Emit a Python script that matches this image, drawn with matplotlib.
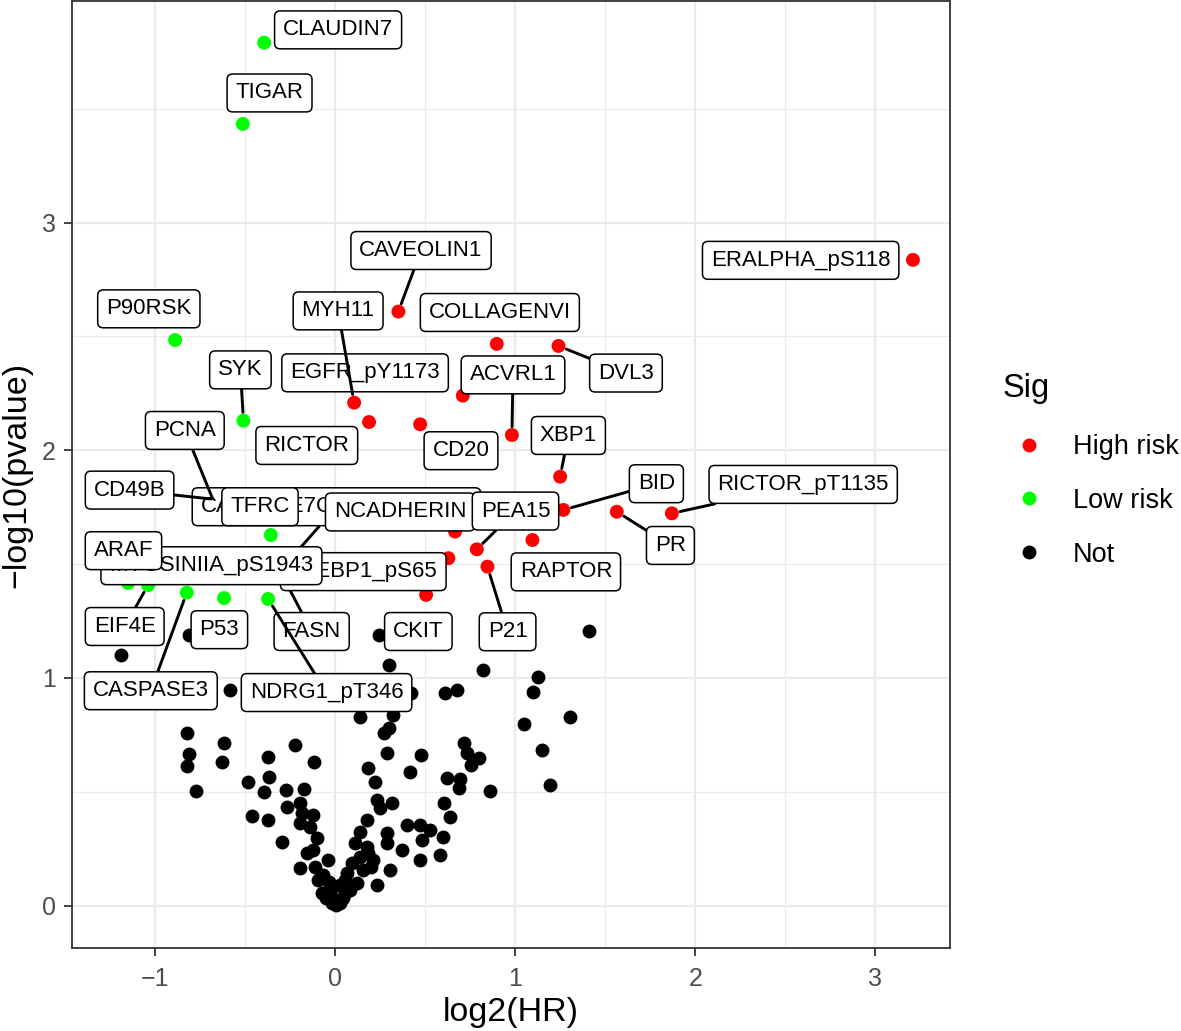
import numpy as np
import matplotlib
matplotlib.use("Agg")
import matplotlib.pyplot as plt
from matplotlib.lines import Line2D

plt.rcParams['font.family'] = ['Liberation Sans', 'DejaVu Sans']

# proteins that are not significant (Sig = "Not")
not_x = [1.412, 0.823, 1.125, 1.097, 0.610, 0.675, 1.305, 1.049, 0.712, 1.147,
         0.730, 0.800, 0.753, 1.190, 0.860, 0.619, 0.693, 0.689, 0.604, 0.638,
         -1.191, -0.813, 0.243, 0.298, 0.421, -0.585, 0.137, 0.321, 0.298, 0.271,
         -0.824, -0.813, -0.824, -0.774, -0.619, -0.630, -0.224, -0.374, -0.118, 0.287,
         0.476, 0.415, 0.182, 0.221, -0.485, -0.369, -0.396, -0.274, -0.174, -0.268,
         -0.196, -0.185, -0.124, -0.374, -0.196, -0.296, -0.141, -0.102, -0.157, -0.124,
         -0.041, -0.196, -0.113, -0.096, -0.068, -0.074, -0.018, 0.009, -0.018, 0.026,
         0.054, 0.065, 0.093, 0.110, 0.137, 0.176, 0.232, 0.315, 0.248, 0.137,
         0.176, 0.210, 0.154, 0.121, 0.082, 0.287, 0.287, 0.304, 0.232, 0.371,
         0.399, 0.471, 0.526, 0.482, 0.599, 0.471, 0.582, -0.463, 0.004, -0.052,
         0.043, -0.035, 0.026, 0.054, 0.182, 0.199]
not_y = [1.208, 1.035, 1.003, 0.940, 0.935, 0.947, 0.830, 0.797, 0.713, 0.684,
         0.669, 0.647, 0.618, 0.530, 0.505, 0.561, 0.556, 0.516, 0.452, 0.390,
         1.101, 1.189, 1.189, 1.057, 0.934, 0.947, 0.829, 0.838, 0.780, 0.758,
         0.758, 0.666, 0.614, 0.504, 0.715, 0.631, 0.706, 0.653, 0.631, 0.671,
         0.662, 0.587, 0.605, 0.543, 0.543, 0.565, 0.499, 0.508, 0.513, 0.433,
         0.451, 0.407, 0.398, 0.376, 0.363, 0.280, 0.346, 0.297, 0.231, 0.245,
         0.201, 0.166, 0.170, 0.113, 0.135, 0.056, 0.078, 0.025, 0.012, 0.012,
         0.056, 0.144, 0.188, 0.275, 0.324, 0.376, 0.464, 0.451, 0.429, 0.214,
         0.258, 0.201, 0.157, 0.100, 0.069, 0.319, 0.275, 0.157, 0.091, 0.245,
         0.354, 0.354, 0.332, 0.289, 0.302, 0.201, 0.223, 0.394, 0.003, 0.034,
         0.034, 0.104, 0.091, 0.113, 0.231, 0.170]

# significant, labelled proteins
lab_names = ['CLAUDIN7', 'TIGAR', 'P90RSK', 'SYK', 'CAVEOLIN1', 'COLLAGENVI', 'DVL3',
             'EGFR_pY1173', 'MYH11', 'ACVRL1', 'RICTOR', 'CD20', 'XBP1', 'ERALPHA_pS118',
             'CASPASE7CLEAVEDD198', 'PCNA', 'CD49B', 'TFRC', 'NCADHERIN', 'PEA15', 'BID',
             'PR', 'RICTOR_pT1135', 'RAPTOR', 'FASN', 'X4EBP1_pS65', 'MYOSINIIA_pS1943',
             'ARAF', 'EIF4E', 'P53', 'CKIT', 'P21', 'CASPASE3', 'NDRG1_pT346']
lab_sig = ['Low risk', 'Low risk', 'Low risk', 'Low risk', 'High risk', 'High risk', 'High risk',
           'High risk', 'High risk', 'High risk', 'High risk', 'High risk', 'High risk', 'High risk',
           'Low risk', 'Low risk', 'Low risk', 'Low risk', 'High risk', 'High risk', 'High risk',
           'High risk', 'High risk', 'High risk', 'Low risk', 'High risk', 'Low risk',
           'Low risk', 'Low risk', 'Low risk', 'High risk', 'High risk', 'Low risk', 'Low risk']
lab_x = [-0.396, -0.515, -0.891, -0.511, 0.350, 0.897, 1.240,
         0.708, 0.104, 0.981, 0.187, 0.471, 1.249, 3.210,
         -0.235, -0.666, -0.644, -0.359, 0.665, 0.786, 1.267,
         1.564, 1.870, 1.095, -0.291, 0.628, -0.724,
         -1.152, -1.041, -0.619, 0.504, 0.845, -0.826, -0.374]
lab_y = [3.790, 3.433, 2.484, 2.130, 2.609, 2.467, 2.458,
         2.240, 2.209, 2.067, 2.124, 2.114, 1.884, 2.836,
         1.536, 1.755, 1.782, 1.628, 1.643, 1.565, 1.738,
         1.730, 1.723, 1.606, 1.444, 1.526, 1.466,
         1.417, 1.408, 1.351, 1.365, 1.489, 1.375, 1.347]

# where the repelled label boxes sit, and whether a segment joins them to the point
text_x = [0.015, -0.366, -1.037, -0.528, 0.476, 0.914, 1.615,
          0.165, 0.015, 0.987, -0.159, 0.698, 1.295, 2.586,
          0.006, -0.837, -1.144, -0.419, 0.360, 1.001, 1.784,
          1.862, 2.600, 1.281, -0.132, 0.155, -0.689,
          -1.178, -1.171, -0.645, 0.461, 0.957, -1.026, -0.049]
text_y = [3.846, 3.569, 2.621, 2.353, 2.877, 2.605, 2.339,
          2.340, 2.612, 2.331, 2.021, 1.998, 2.065, 2.834,
          1.752, 2.087, 1.825, 1.752, 1.729, 1.733, 1.853,
          1.582, 1.850, 1.466, 1.204, 1.467, 1.493,
          1.559, 1.226, 1.212, 1.204, 1.203, 0.944, 0.936]
has_seg = [False, False, False, True, True, False, True,
           False, True, True, False, False, True, False,
           True, True, True, False, False, True, True,
           True, True, False, True, False, False,
           False, True, False, False, True, True, True]

sig_levels = ['High risk', 'Low risk', 'Not']
sig_colors = {'High risk': '#FF0000', 'Low risk': '#00FF00', 'Not': '#000000'}

W, H = 1181, 1031
fig = plt.figure(figsize=(W / 100, H / 100), dpi=100)
ax = fig.add_axes([72 / W, 1 - 948.3 / H, (950 - 72) / W, (948.3 - 0.5) / H])

ax.set_xlim(-1.464, 3.416)
ax.set_ylim(-0.187, 3.975)

ax.set_xticks([-1, 0, 1, 2, 3])
ax.set_yticks([0, 1, 2, 3])
ax.set_xticks([-0.5, 0.5, 1.5, 2.5], minor=True)
ax.set_yticks([0.5, 1.5, 2.5, 3.5], minor=True)
ax.grid(which='major', color='#EBEBEB', lw=1.6)
ax.grid(which='minor', color='#EBEBEB', lw=0.8)
ax.set_axisbelow(True)
ax.tick_params(which='minor', length=0)
ax.tick_params(which='major', length=5.8, width=1.3, color='#333333',
               labelcolor='#4D4D4D', labelsize=18)
ax.tick_params(axis='x', pad=7.5)
ax.tick_params(axis='y', pad=6)
for s in ax.spines.values():
    s.set_color('#333333')
    s.set_linewidth(1.3)

# points
ax.scatter(not_x, not_y, s=100, c=sig_colors['Not'], linewidths=0, zorder=2)
lab_cols = [sig_colors[s] for s in lab_sig]
ax.scatter(lab_x, lab_y, s=100, c=lab_cols, linewidths=0, zorder=2)

# labels
box = dict(boxstyle='round,pad=0.38,rounding_size=0.25', fc='white', ec='black', lw=1.1)
for i, name in enumerate(lab_names):
    kw = {}
    if has_seg[i]:
        kw['arrowprops'] = dict(arrowstyle='-', color='black', lw=2.1,
                                shrinkA=0, shrinkB=6)
    ax.annotate(name, xy=(lab_x[i], lab_y[i]), xytext=(text_x[i], text_y[i]),
                textcoords='data', ha='center', va='center', fontsize=16,
                bbox=box, zorder=3, **kw)

ax.set_xlabel('log2(HR)', fontsize=24.5)
ax.set_ylabel('\u2212log10(pvalue)', fontsize=24.5)
ax.xaxis.set_label_coords(511 / W, 1 - 1012 / H, transform=fig.transFigure)
ax.yaxis.set_label_coords(17 / W, 1 - 475 / H, transform=fig.transFigure)
ax.xaxis.label.set_va('center')
ax.yaxis.label.set_va('center')

# legend
fig.text(1003 / W, 1 - 397 / H, 'Sig', fontsize=23.5, ha='left', va='baseline')
for lev, py in zip(sig_levels, [445, 498, 552]):
    fig.add_artist(Line2D([1029 / W], [1 - py / H], transform=fig.transFigure,
                          marker='o', ms=10, mew=0, color=sig_colors[lev], linestyle='none'))
    fig.text(1073 / W, 1 - (py + 9.5) / H, lev, fontsize=19.5, ha='left', va='baseline')

fig.savefig('out.png', dpi=100)
